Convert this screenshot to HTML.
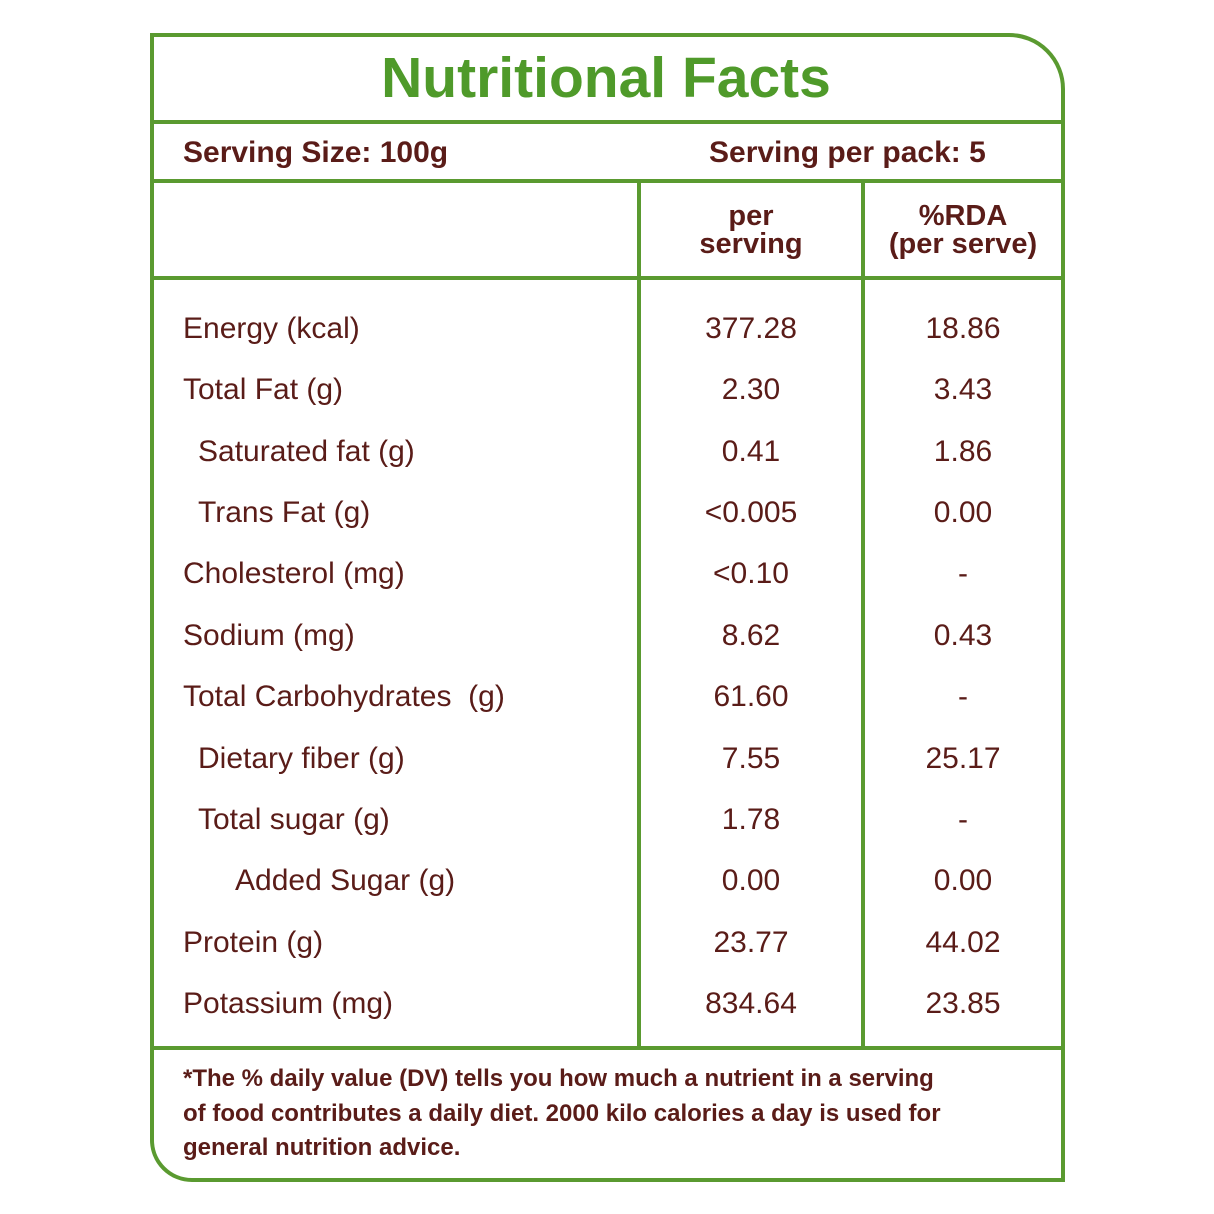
<!DOCTYPE html>
<html><head><meta charset="utf-8"><style>
html,body{margin:0;padding:0;background:#fff;width:1214px;height:1214px;overflow:hidden;font-family:"Liberation Sans",sans-serif;color:#5a1c18}
.box{position:absolute;left:150px;top:33px;width:907px;height:1141px;border:4px solid #5a9a30;border-top-right-radius:56px;border-bottom-left-radius:42px}
.h{position:absolute;height:4px;background:#5a9a30}
.v{position:absolute;width:4px;background:#5a9a30;top:181px;height:868px}
.t{position:absolute;white-space:nowrap;line-height:1}
.c{transform:translateX(-50%);text-align:center}
</style></head><body>
<div class="box"></div>
<div class="h" style="left:152px;width:909px;top:120px"></div>
<div class="h" style="left:152px;width:909px;top:179px"></div>
<div class="h" style="left:152px;width:909px;top:276px"></div>
<div class="h" style="left:152px;width:909px;top:1046px"></div>
<div class="v" style="left:637px"></div>
<div class="v" style="left:861px"></div>
<div class="t c" style="left:606px;top:50px;font-size:57px;font-weight:bold;color:#4f9a2a">Nutritional Facts</div>
<div class="t" style="left:183px;top:138px;font-size:30px;font-weight:bold">Serving Size: 100g</div>
<div class="t" style="left:709px;top:138px;font-size:30px;font-weight:bold">Serving per pack: 5</div>
<div class="t c" style="left:751px;top:202px;font-size:29px;font-weight:bold;line-height:28px">per<br>serving</div>
<div class="t c" style="left:963px;top:202px;font-size:29px;font-weight:bold;line-height:28px">%RDA<br>(per serve)</div>
<div id="rows"></div>
<div class="t" style="left:183px;top:1062px;font-size:24px;font-weight:bold;line-height:34.5px">*The % daily value (DV) tells you how much a nutrient in a serving<br>of food contributes a daily diet. 2000 kilo calories a day is used for<br>general nutrition advice.</div>
<script>
const nutrients=["Energy (kcal)","Total Fat (g)","Saturated fat (g)","Trans Fat (g)","Cholesterol (mg)","Sodium (mg)","Total Carbohydrates  (g)","Dietary fiber (g)","Total sugar (g)","Added Sugar (g)","Protein (g)","Potassium (mg)"];
const indents=[0,0,1,1,0,0,0,1,1,2,0,0];
const perServing=["377.28","2.30","0.41","<0.005","<0.10","8.62","61.60","7.55","1.78","0.00","23.77","834.64"];
const rda=["18.86","3.43","1.86","0.00","-","0.43","-","25.17","-","0.00","44.02","23.85"];
const rows=document.getElementById('rows');
const indentPx=[183,198,235];
nutrients.forEach((n,i)=>{
  const y=327+i*61.36-13;
  const l=document.createElement('div');l.className='t';l.style.cssText=`left:${indentPx[indents[i]]}px;top:${y}px;font-size:30px;white-space:pre`;l.textContent=n;
  
  
  rows.appendChild(l);
  const p=document.createElement('div');p.className='t c';p.style.cssText=`left:751px;top:${y}px;font-size:30px`;p.textContent=perServing[i];
  
  
  rows.appendChild(p);
  const r=document.createElement('div');r.className='t c';r.style.cssText=`left:963px;top:${y}px;font-size:30px`;r.textContent=rda[i];
  
  
  rows.appendChild(r);
});
</script>
</body></html>
